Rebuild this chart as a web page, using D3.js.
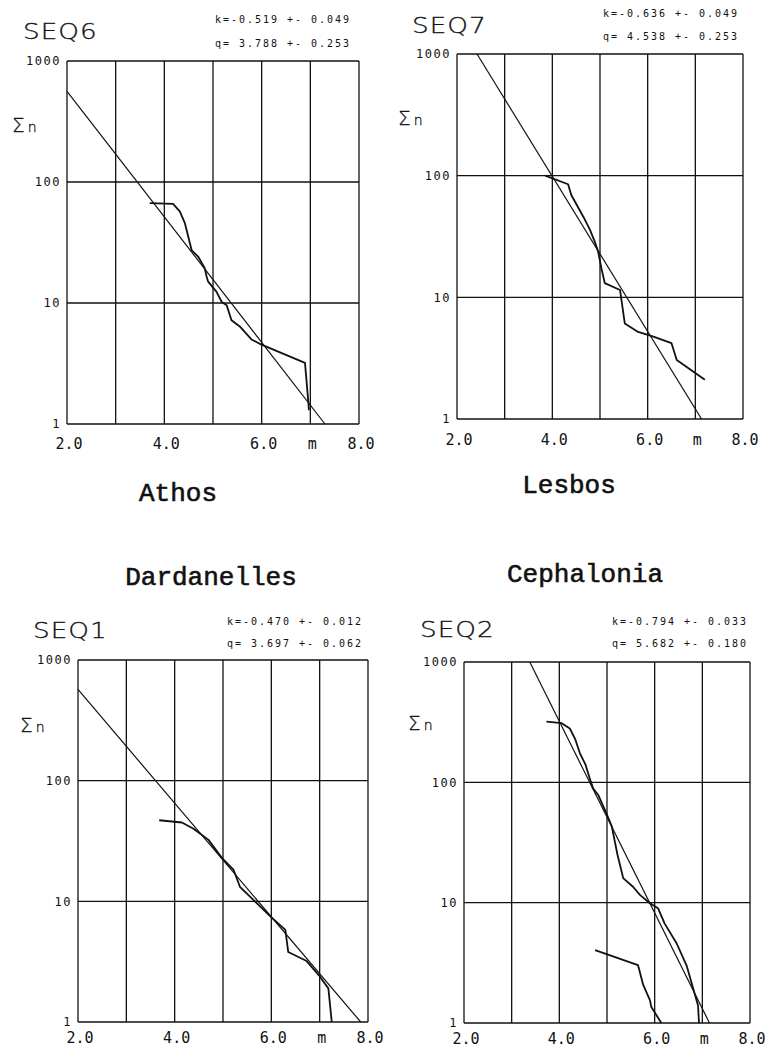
<!DOCTYPE html>
<html>
<head>
<meta charset="utf-8">
<script src="https://cdn.jsdelivr.net/npm/d3@7"></script>
<style>
  body { margin: 0; background: #fff; }
  svg text { fill: #111; }
</style>
</head>
<body>
<svg id="chart"></svg>
<script>
// Axis ticks shared by all four panels
const xGrid = [2, 3, 4, 5, 6, 7, 8];
const xLabelValues = [2, 4, 6, 7, 8];
const xLabelTexts = ["2.0", "4.0", "6.0", "m", "8.0"];
const yGrid = [1, 10, 100, 1000];
const yLabelTexts = ["1", "10", "100", "1000"];

// Panel titles, regions and fit parameters
const seqNames = ["SEQ6", "SEQ7", "SEQ1", "SEQ2"];
const regionNames = ["Athos", "Lesbos", "Dardanelles", "Cephalonia"];
const kTexts = ["k=-0.519 +- 0.049", "k=-0.636 +- 0.049", "k=-0.470 +- 0.012", "k=-0.794 +- 0.033"];
const qTexts = ["q= 3.788 +- 0.253", "q= 4.538 +- 0.253", "q= 3.697 +- 0.062", "q= 5.682 +- 0.180"];

// Cumulative counts [magnitude, sum n]
const seq6Curve = [[3.70, 67], [4.18, 66], [4.32, 57], [4.42, 46], [4.56, 27.4], [4.70, 24], [4.83, 19.4],
  [4.87, 16.5], [4.90, 15], [5.07, 12.4], [5.18, 10.2], [5.28, 9.6], [5.38, 7.2], [5.55, 6.4],
  [5.79, 5.0], [5.96, 4.6], [6.89, 3.2], [6.96, 1.5], [6.97, 1.3]];
const seq6Fit = [[2.0, 562], [7.30, 1]];

const seq7Curve = [[3.85, 100], [4.33, 85], [4.40, 69], [4.65, 46], [4.79, 35.8], [4.89, 28.7], [4.96, 23.8],
  [5.03, 17.3], [5.10, 13.1], [5.42, 11.5], [5.52, 6.1], [5.80, 5.2], [6.12, 4.75], [6.50, 4.2],
  [6.61, 3.06], [7.20, 2.1]];
const seq7Fit = [[2.42, 1000], [7.13, 1]];

const seq1Curve = [[3.68, 47], [4.15, 45], [4.39, 40], [4.70, 32.3], [4.98, 22.8], [5.22, 18.2], [5.35, 13.2],
  [5.66, 10], [5.98, 7.5], [6.29, 5.8], [6.35, 3.8], [6.73, 3.2], [6.98, 2.45], [7.18, 1.9], [7.25, 1]];
const seq1Fit = [[2.0, 570], [7.85, 1]];

const seq2Curve = [[3.73, 320], [4.05, 310], [4.22, 280], [4.33, 230], [4.43, 175], [4.55, 140], [4.63, 110],
  [4.71, 89], [4.82, 78], [4.99, 55], [5.10, 43], [5.22, 25], [5.34, 16], [5.55, 13.5], [5.69, 11.6],
  [5.90, 9.9], [6.07, 9.0], [6.21, 6.7], [6.46, 4.6], [6.67, 3.0], [6.91, 1.4], [6.93, 1]];
const seq2Tail = [[4.75, 4.04], [5.65, 3.03], [5.76, 2.07], [5.90, 1.55], [5.93, 1.36], [6.14, 1]];
const seq2Fit = [[3.38, 1000], [7.15, 1]];

const curvesByPanel = [[seq6Curve], [seq7Curve], [seq1Curve], [seq2Curve, seq2Tail]];
const fitsByPanel = [seq6Fit, seq7Fit, seq1Fit, seq2Fit];

// Page layout of each panel
const layout = [
  { left: 67, top: 61, right: 359, bottom: 424, xLabY: 449, titleX: 23, titleY: 39, statX: 215, kY: 23, qY: 47, sigX: 12, sigY: 125, regX: 178, regY: 501 },
  { left: 457, top: 54, right: 743, bottom: 419, xLabY: 445, titleX: 412, titleY: 33, statX: 603, kY: 17, qY: 40, sigX: 398, sigY: 118, regX: 569, regY: 493 },
  { left: 78, top: 660, right: 368, bottom: 1022, xLabY: 1043, titleX: 33, titleY: 638, statX: 227, kY: 625, qY: 647, sigX: 20, sigY: 725, regX: 211, regY: 585 },
  { left: 464, top: 662, right: 750, bottom: 1023, xLabY: 1044, titleX: 420, titleY: 637, statX: 612, kY: 625, qY: 647, sigX: 408, sigY: 723, regX: 585, regY: 582 }
];

const width = 765;
const height = 1050;
const ink = "#111";
const monoFont = "'DejaVu Sans Mono', monospace";
const typeFont = "'Courier New', 'Liberation Mono', monospace";

const svg = d3.select("#chart")
    .attr("width", width)
    .attr("height", height);

layout.forEach((p, i) => {
    const g = svg.append("g");

    const x = d3.scaleLinear().domain([2, 8]).range([p.left, p.right]);
    const y = d3.scaleLog().domain([1, 1000]).range([p.bottom, p.top]);

    // Grid
    g.selectAll(".vgrid")
        .data(xGrid)
        .join("line")
        .attr("x1", d => x(d)).attr("x2", d => x(d))
        .attr("y1", p.top).attr("y2", p.bottom)
        .attr("stroke", ink)
        .attr("stroke-width", 1.3);

    g.selectAll(".hgrid")
        .data(yGrid)
        .join("line")
        .attr("x1", p.left).attr("x2", p.right)
        .attr("y1", d => y(d)).attr("y2", d => y(d))
        .attr("stroke", ink)
        .attr("stroke-width", 1.3);

    // Y tick labels
    g.selectAll(".ylab")
        .data(yGrid)
        .join("text")
        .attr("x", p.left - 6)
        .attr("y", d => y(d))
        .attr("dy", "0.35em")
        .attr("text-anchor", "end")
        .attr("font-family", monoFont)
        .attr("font-size", 12)
        .attr("letter-spacing", 1.5)
        .text((d, j) => yLabelTexts[j]);

    // X tick labels
    g.selectAll(".xlab")
        .data(xLabelValues)
        .join("text")
        .attr("x", d => x(d) + 2)
        .attr("y", p.xLabY)
        .attr("text-anchor", "middle")
        .attr("font-family", monoFont)
        .attr("font-size", 15)
        .text((d, j) => xLabelTexts[j]);

    // Fit line and data curves
    const line = d3.line().x(d => x(d[0])).y(d => y(d[1]));

    g.append("path")
        .attr("d", line(fitsByPanel[i]))
        .attr("fill", "none")
        .attr("stroke", ink)
        .attr("stroke-width", 1.2);

    g.selectAll(".curve")
        .data(curvesByPanel[i])
        .join("path")
        .attr("d", line)
        .attr("fill", "none")
        .attr("stroke", ink)
        .attr("stroke-width", 1.8)
        .attr("stroke-linejoin", "round");

    // Title, drawn a little wider like the plotter lettering
    g.append("text")
        .attr("transform", `translate(${p.titleX},${p.titleY}) scale(1.25,1)`)
        .attr("font-family", "'DejaVu Sans', sans-serif")
        .attr("font-weight", 200)
        .attr("font-size", 21)
        .attr("stroke", ink)
        .attr("stroke-width", 0.3)
        .attr("textLength", 59)
        .attr("lengthAdjust", "spacing")
        .text(seqNames[i]);

    // Fit statistics
    [[kTexts[i], p.kY], [qTexts[i], p.qY]].forEach(([t, yy]) => {
        g.append("text")
            .attr("x", p.statX)
            .attr("y", yy)
            .attr("font-family", monoFont)
            .attr("font-size", 10)
            .attr("textLength", 134)
            .attr("lengthAdjust", "spacing")
            .attr("xml:space", "preserve")
            .text(t);
    });

    // Sigma n label
    const sig = g.append("text")
        .attr("x", p.sigX)
        .attr("y", p.sigY + 7)
        .attr("font-family", "'DejaVu Sans', sans-serif")
        .attr("font-weight", 200)
        .attr("stroke", ink)
        .attr("stroke-width", 0.3);
    sig.append("tspan").attr("font-size", 20).text("Σ");
    sig.append("tspan").attr("font-size", 14).attr("dx", 3).text("n");

    // Region name
    svg.append("text")
        .attr("x", p.regX)
        .attr("y", p.regY)
        .attr("text-anchor", "middle")
        .attr("font-family", typeFont)
        .attr("font-size", 26)
        .attr("stroke", ink)
        .attr("stroke-width", 0.6)
        .text(regionNames[i]);
});
</script>
</body>
</html>
